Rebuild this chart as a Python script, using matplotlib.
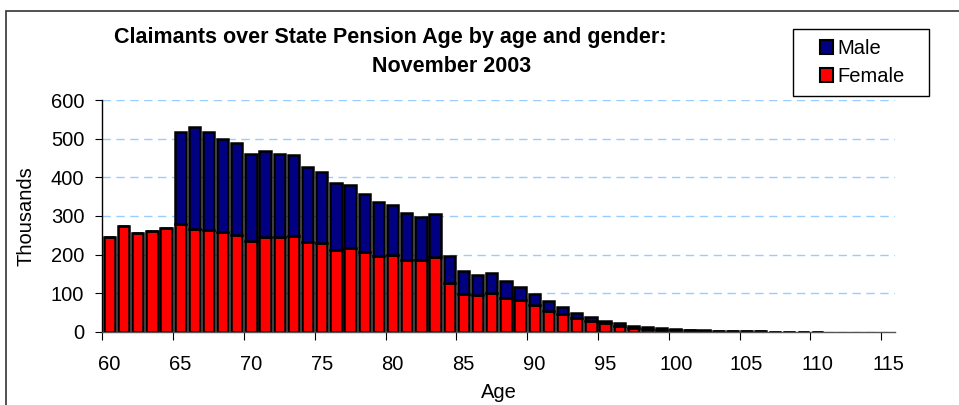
import numpy as np
import matplotlib
matplotlib.use('Agg')
import matplotlib.pyplot as plt
from matplotlib.patches import Patch, Rectangle

plt.rcParams['font.family'] = ['Liberation Sans', 'DejaVu Sans']

# Claimants (thousands) by single year of age
ages = list(range(60, 111))
female = [245, 275, 255, 261, 270, 280, 266, 263, 258, 252,
          236, 245, 246, 247, 233, 229, 213, 217, 206, 195,
          198, 186, 185, 193, 125, 99, 94, 101, 88, 81,
          68, 54, 47, 36, 29, 22, 16, 10, 7, 5.5,
          4.5, 3.5, 2.5, 1.8, 1.3, 0.9, 0.6, 0.4, 0.25, 0.15,
          0.08]
male = [0, 0, 0, 0, 0, 238, 266, 256, 241, 236,
        224, 223, 216, 212, 195, 184, 172, 164, 152, 141,
        131, 121, 113, 112, 71, 59, 54, 50, 43, 36,
        31, 25, 16, 13, 10, 7, 7, 6, 5, 3.5,
        2.5, 1.5, 1, 0.7, 0.5, 0.3, 0.2, 0.1, 0.05, 0.05,
        0.02]
yticks = [0, 100, 200, 300, 400, 500, 600]
xlabels = list(range(60, 116, 5))

RED = '#ff0000'
NAVY = '#000080'
GRID = '#99ccff'
FS = 14.5

W, H = 959, 405
fig = plt.figure(figsize=(W / 100, H / 100), dpi=100)
ax = fig.add_axes([102.3 / W, 1 - 331.7 / H, 793 / W, 231.4 / H])

ax.bar(ages, female, width=0.8, color=RED, edgecolor='black', linewidth=1.8, zorder=3)
ax.bar(ages, male, width=0.8, bottom=female, color=NAVY, edgecolor='black',
       linewidth=1.8, zorder=3)

ax.set_xlim(59.5, 115.5)
ax.set_ylim(0, 600)

# y axis
ax.set_yticks(yticks)
ax.tick_params(axis='y', direction='out', length=5, width=0.8, labelsize=FS, pad=8)
ax.yaxis.grid(True, color=GRID, linestyle=(0, (6, 4)), linewidth=1, zorder=0)

# x axis: tick marks between categories, labels on categories
ax.set_xticks(np.arange(59.5, 116, 5))
ax.set_xticklabels([])
ax.set_xticks(xlabels, minor=True)
ax.set_xticklabels([str(v) for v in xlabels], minor=True)
ax.tick_params(axis='x', which='major', direction='out', length=6, width=0.8)
ax.tick_params(axis='x', which='minor', length=0, labelsize=FS, pad=16.5)

for s in ['top', 'right']:
    ax.spines[s].set_visible(False)
ax.spines['left'].set_linewidth(1)
ax.spines['bottom'].set_linewidth(1)
ax.spines['bottom'].set_color('#555555')
ax.spines['bottom'].set_zorder(5)

ax.set_xlabel('Age', fontsize=FS, labelpad=7)
ax.set_ylabel('Thousands', fontsize=FS, labelpad=11)

# title (two lines, as in the original)
fig.text(390 / W, 1 - 38 / H, 'Claimants over State Pension Age by age and gender:',
         ha='center', va='center', fontsize=15.5, fontweight='bold')
fig.text(452 / W, 1 - 67 / H, 'November 2003',
         ha='center', va='center', fontsize=15.5, fontweight='bold')

# legend: frame drawn separately so the padding matches the original
fig.patches.append(Rectangle((793 / W, 1 - 96 / H), 136 / W, 67 / H,
                             transform=fig.transFigure, facecolor='white',
                             edgecolor='black', linewidth=1, zorder=4))
handles = [Patch(facecolor=NAVY, edgecolor='black', linewidth=1.5, label='Male'),
           Patch(facecolor=RED, edgecolor='black', linewidth=1.5, label='Female')]
leg = fig.legend(handles=handles, loc='center', bbox_to_anchor=(862 / W, 1 - 62.5 / H),
                 fontsize=FS, frameon=False, handlelength=0.68, handleheight=0.68,
                 handletextpad=0.2, labelspacing=0.45, borderpad=0, borderaxespad=0)
leg.set_zorder(5)

# chart area border (runs off the right and bottom edges)
fig.patches.append(Rectangle((6 / W, -0.5), 2, 1.5 - 11 / H, transform=fig.transFigure,
                             fill=False, edgecolor='#333333', linewidth=1.2))

fig.savefig('out.png', dpi=100)
